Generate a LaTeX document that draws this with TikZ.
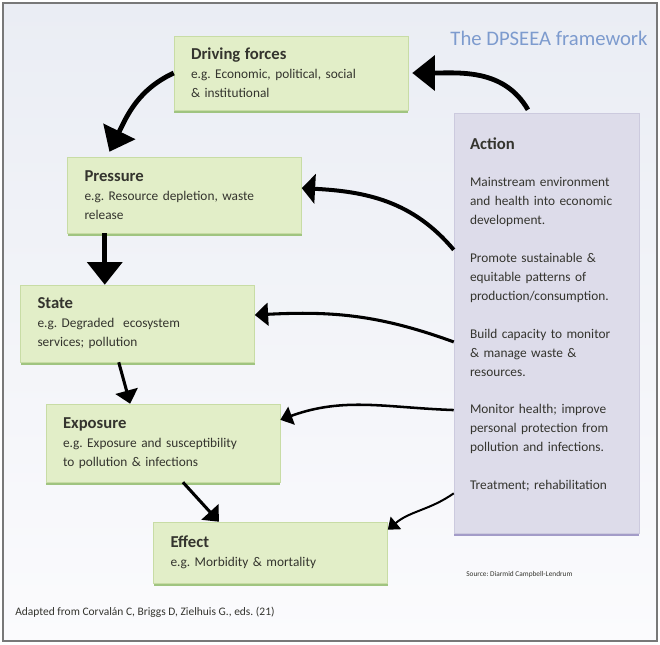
\documentclass[tikz,border=0pt]{standalone}
\usepackage{fontspec}
\setmainfont{Carlito}
\frenchspacing
\usetikzlibrary{arrows.meta,calc,shadows}
\definecolor{stagegreen}{RGB}{226,238,200}
\definecolor{stageedge}{RGB}{200,220,165}
\definecolor{stageshade}{RGB}{160,196,128}
\definecolor{actionlilac}{RGB}{221,220,234}
\definecolor{actionedge}{RGB}{204,202,222}
\definecolor{actionshade}{RGB}{163,156,200}
\definecolor{titleblue}{RGB}{125,155,206}
\definecolor{inktext}{RGB}{52,52,46}
\definecolor{paneltop}{RGB}{234,237,244}
\definecolor{panelbottom}{RGB}{251,251,253}
\definecolor{framegray}{RGB}{120,120,120}
\newcommand\stagename[1]{{\fontsize{12.5}{15}\selectfont\bfseries #1}}
\tikzset{heavy/.style={-{Triangle[length=17pt,width=26pt]},line width=3.6pt},
 bold link/.style={-{Triangle[length=10pt,width=22pt]},line width=3pt},
 medium/.style={-{Triangle[length=10pt,width=17pt]},line width=2.3pt},
 light/.style={-{Triangle[length=9pt,width=14pt]},line width=1.9pt},
 thin link/.style={-{Triangle[length=8pt,width=12pt]},line width=1.5pt}}

\begin{document}
\begin{tikzpicture}[x=0.75pt,y=0.75pt,
 stage/.style={draw=stageedge,fill=stagegreen,align=left,text width=150pt,inner xsep=12.75pt,inner ysep=2pt,
  text=inktext,font=\fontsize{10}{14.25}\selectfont,
  drop shadow={shadow xshift=0pt,shadow yshift=-2.5pt,fill=stageshade,opacity=1}},
 action/.style={draw=actionedge,fill=actionlilac,align=left,text width=114.75pt,inner xsep=12pt,inner ysep=2pt,
  text=inktext,font=\fontsize{10}{14.25}\selectfont,minimum height=315pt,
  drop shadow={shadow xshift=0pt,shadow yshift=-2.5pt,fill=actionshade,opacity=1}}]
\useasboundingbox (0,0) rectangle (660,644);
\shade[top color=paneltop,bottom color=panelbottom] (3,3) rectangle (657,641);
\draw[framegray,line width=1.5pt] (3,3) rectangle (657,641);
\node[text=titleblue,font=\fontsize{15.5}{18}\selectfont] (ttl) at (549,606) {The DPSEEA framework};
% the five stages
\node[stage,minimum height=55.5pt] (drv) at (291,571) {\stagename{Driving forces}\\e.g. Economic, political, social\\\& institutional};
\node[stage,minimum height=57pt] (pre) at (184.5,449) {\stagename{Pressure}\\e.g. Resource depletion, waste\\release};
\node[stage,minimum height=57.75pt] (sta) at (137.5,320.5) {\stagename{State}\\e.g. Degraded\ \ ecosystem\\services; pollution};
\node[stage,minimum height=58.5pt] (exp) at (163,201) {\stagename{Exposure}\\e.g. Exposure and susceptibility\\to pollution \& infections};
\node[stage,minimum height=45.75pt] (eff) at (270.5,91.5) {\stagename{Effect}\\e.g. Morbidity \& mortality};
\node[action] (act) at (546.5,321) {\stagename{Action}\\[14pt]
Mainstream environment\\and health into economic\\development.\\[14pt]
Promote sustainable \&\\equitable patterns of\\production/consumption.\\[14pt]
Build capacity to monitor\\\& manage waste \&\\resources.\\[14pt]
Monitor health; improve\\personal protection from\\pollution and infections.\\[14pt]
Treatment; rehabilitation\\[0pt]\mbox{}};
\node[anchor=west,inner sep=0pt,text=inktext,font=\fontsize{5.5}{7}\selectfont] (src) at (466,69) {Source: Diarmid Campbell-Lendrum};
\node[anchor=west,inner sep=0pt,text=inktext,font=\fontsize{8.6}{10}\selectfont] (cite) at (15,32) {Adapted from Corvalán C, Briggs D, Zielhuis G., eds. (21)};
% chain of stages
\draw[heavy] (drv.west) to[out=205,in=64] ($(pre.north west)!0.18!(pre.north east)+(0,5)$);
\coordinate (ps) at ($(pre.south west)!0.16!(pre.south east)$);
\draw[heavy] (ps) -- (ps |- sta.north);
\draw[medium] ($(sta.south west)!0.42!(sta.south east)$) -- ($(exp.north west)!0.36!(exp.north east)$);
\draw[medium] ($(exp.south west)!0.585!(exp.south east)$) -- ($(eff.north west)!0.28!(eff.north east)$);
% action feeds back
\draw[heavy] ($(act.north west)!0.4!(act.north east)+(0,3)$) to[out=120,in=0] ([xshift=3pt]drv.east);
\draw[bold link] ($(act.north west)!0.326!(act.south west)$) to[out=130,in=-3] ($(pre.north east)!0.41!(pre.south east)$);
\draw[medium] ($(act.north west)!0.545!(act.south west)$) to[out=160,in=3] ($(sta.north east)!0.39!(sta.south east)$);
\draw[light] ($(act.north west)!0.707!(act.south west)$) to[out=178,in=20] ($(exp.north east)!0.205!(exp.south east)$);
\draw[thin link] ($(act.north west)!0.905!(act.south west)$) to[out=215,in=40] ($(eff.north east)!0.13!(eff.south east)$);
\end{tikzpicture}
\end{document}
